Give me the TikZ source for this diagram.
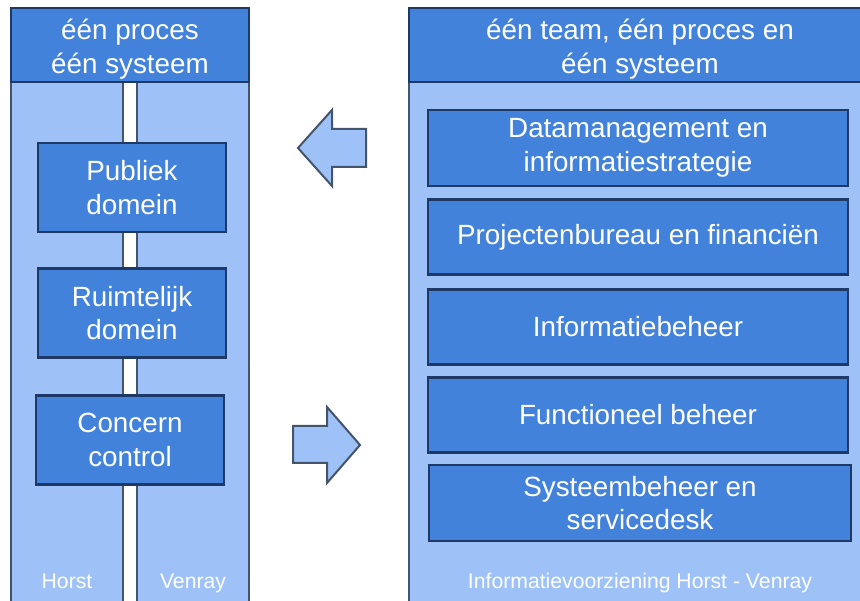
\documentclass[tikz,border=0pt]{standalone}
\usepackage{fontspec}
\setmainfont{Liberation Sans}
\definecolor{midblue}{HTML}{4282DB}
\definecolor{lightblue}{HTML}{9EC2F8}
\definecolor{navy}{HTML}{1F3966}
\definecolor{slate}{HTML}{44546A}
\begin{document}
\begin{tikzpicture}[x=1pt,y=-1pt,
  bigfont/.style={font=\fontsize{27.8}{33.5}\selectfont},
  smallfont/.style={font=\fontsize{21.2}{24}\selectfont},
  panel/.style={draw=slate,fill=lightblue,line width=2pt},
  headbox/.style={draw=navy,fill=midblue,line width=2.2pt},
  unitbox/.style={draw=navy,fill=midblue,line width=2.1pt,text=white,bigfont,align=center,inner sep=0pt,minimum width=#1},
  unitbox/.default=188pt,
  lbl/.style={text=white,smallfont,anchor=base,inner sep=0pt},
  fatarrow/.style={draw=slate,fill=lightblue,line width=2pt,line join=miter}]
\useasboundingbox (0,0) rectangle (860,601);
\fill[white] (0,0) rectangle (860,601);
% left panel
\draw[panel] (11,82) rectangle (123,612);
\draw[panel] (137,82) rectangle (249,612);
\draw[headbox] (11,8) rectangle (249,82);
\node[text=white,bigfont,align=center] (lhead) at (130,49) {één proces\\één systeem};
% right panel
\draw[panel] (409,82) rectangle (872,612);
\draw[headbox] (409,8) rectangle (872,82);
\node[text=white,bigfont,align=center] (rhead) at (640,49) {één team, één proces en\\één systeem};
% left boxes
\node[unitbox, minimum height=89pt] (pub) at (132,187.5) {Publiek\\domein};
\node[unitbox, minimum height=89pt] (ruim) at (132,313) {Ruimtelijk\\domein};
\node[unitbox, minimum height=89pt] (conc) at (130,440) {Concern\\control};
% right boxes
\node[unitbox=420pt, minimum height=76pt] (data) at (638,148) {Datamanagement en\\informatiestrategie};
\node[unitbox=420pt, minimum height=75pt] (proj) at (638,237) {Projectenbureau en financiën};
\node[unitbox=420pt, minimum height=75pt] (info) at (638,327) {Informatiebeheer};
\node[unitbox=420pt, minimum height=75pt] (func) at (638,415) {Functioneel beheer};
\node[unitbox=422pt, minimum height=76pt] (syst) at (640,503) {Systeembeheer en\\servicedesk};
% labels
\node[lbl] (horst) at (67,588) {Horst};
\node[lbl] (venray) at (193,588) {Venray};
\node[lbl] (iv) at (640,588) {Informatievoorziening Horst - Venray};
% arrows
\draw[fatarrow] (298,148) -- (332,110) -- (332,129) -- (366,129) -- (366,167) -- (332,167) -- (332,186) -- cycle;
\draw[fatarrow] (293,426) -- (327,426) -- (327,407) -- (360,445) -- (327,483) -- (327,463) -- (293,463) -- cycle;
\end{tikzpicture}
\end{document}
